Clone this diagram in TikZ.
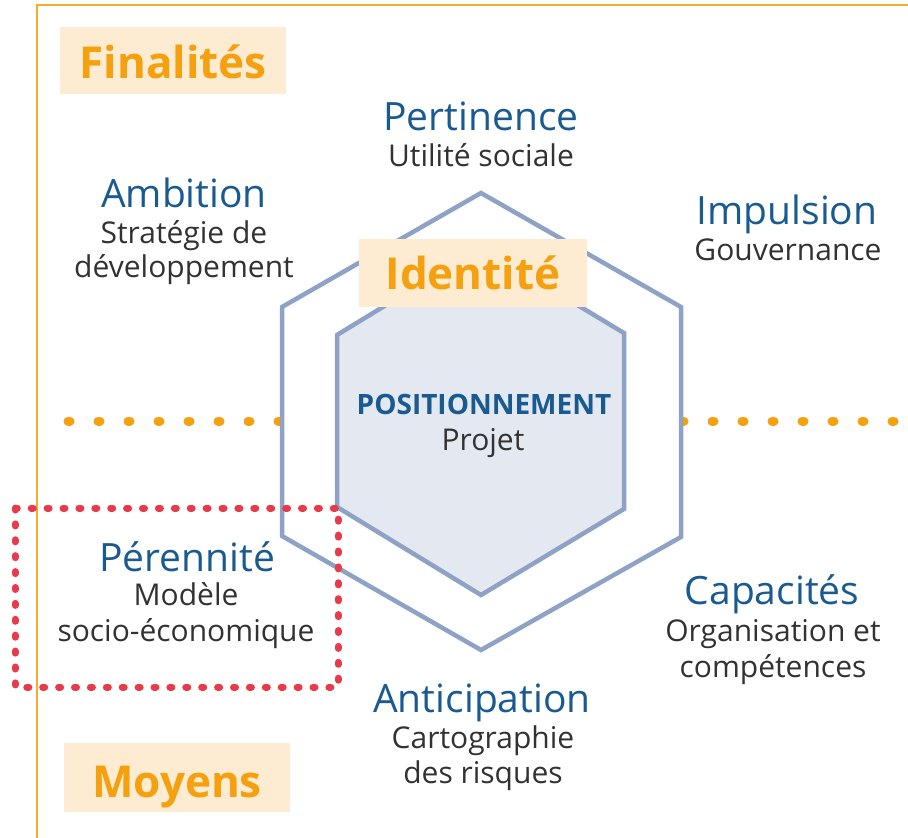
\documentclass[tikz,border=0pt]{standalone}
\usepackage{fontspec}
\setmainfont{Open Sans}
\definecolor{orangetxt}{RGB}{245,160,15}
\definecolor{boxfill}{RGB}{253,235,210}
\definecolor{frameorange}{RGB}{245,170,50}
\definecolor{titleblue}{RGB}{25,90,145}
\definecolor{subgray}{RGB}{50,50,50}
\definecolor{hexstroke}{RGB}{142,162,198}
\definecolor{hexfill}{RGB}{228,232,241}
\definecolor{dotred}{RGB}{232,58,75}
\begin{document}
\begin{tikzpicture}[x=1pt,y=-1pt,
  ttl/.style={anchor=base,inner sep=0pt,text=titleblue,font=\fontsize{39}{46}\selectfont},
  sub/.style={anchor=base,inner sep=0pt,text=subgray,font=\fontsize{30}{36}\selectfont},
  tagbox/.style={fill=boxfill,inner sep=0pt,text=orangetxt,font=\fontsize{44}{52}\selectfont\bfseries,text depth=0pt},
  hexline/.style={draw=hexstroke,line width=4.5pt,line join=miter},
  orangedots/.style={draw=orangetxt,line width=9pt,line cap=round,dash pattern=on 2pt off 28pt},
  reddots/.style={draw=dotred,line width=7pt,line cap=round,dash pattern=on 2pt off 13.9pt}
]
\useasboundingbox (0,0) rectangle (908,838);
% frame
\coordinate (fbl) at (37,838);
\coordinate (ftl) at (37,5);
\coordinate (ftr) at (908,5);
\draw[frameorange,line width=2pt] (fbl) -- (ftl) -- (ftr);
% dotted separator
\coordinate (dl1) at (68,421);
\coordinate (dl2) at (280,421);
\coordinate (dr1) at (682,421);
\coordinate (dr2) at (908,421);
\draw[orangedots] (dl1) -- (dl2);
\draw[orangedots] (dr1) -- (dr2);
% outer hexagon
\coordinate (o1) at (481,193);
\coordinate (o2) at (681,307);
\coordinate (o3) at (681,537);
\coordinate (o4) at (481,650);
\coordinate (o5) at (282,536);
\coordinate (o6) at (282,307);
\draw[hexline,fill=white] (o1) -- (o2) -- (o3) -- (o4) -- (o5) -- (o6) -- cycle;
% inner hexagon
\coordinate (i1) at (481,247);
\coordinate (i2) at (624,333);
\coordinate (i3) at (624,509);
\coordinate (i4) at (481,595);
\coordinate (i5) at (337,507);
\coordinate (i6) at (337,335);
\draw[hexline,fill=hexfill] (i1) -- (i2) -- (i3) -- (i4) -- (i5) -- (i6) -- cycle;
% tag boxes
\node[tagbox,minimum width=226pt,minimum height=67pt,text height=35pt] (fin) at (173,60.5) {Finalités};
\node[tagbox,minimum width=228pt,minimum height=68pt,text height=32pt] (ident) at (473,273) {Identité};
\node[tagbox,minimum width=226pt,minimum height=69pt,text height=39pt] (moy) at (177,777.5) {Moyens};
% labels
\node[ttl] (pert) at (481,130) {Pertinence};
\node[sub] (pertS) at (481,166) {Utilité sociale};
\node[ttl] (amb) at (184,207) {Ambition};
\node[sub] (ambS1) at (184,243) {Stratégie de};
\node[sub] (ambS2) at (184,277) {développement};
\node[ttl] (imp) at (787,224) {Impulsion};
\node[sub] (impS) at (788,260) {Gouvernance};
\node[anchor=base,inner sep=0pt,text=titleblue,font=\fontsize{28}{34}\selectfont\bfseries] (pos) at (484,414) {POSITIONNEMENT};
\node[sub] (posS) at (483,450) {Projet};
\node[ttl] (per) at (187,571) {Pérennité};
\node[sub] (perS1) at (186,605) {Modèle};
\node[sub] (perS2) at (186,641) {socio-économique};
\node[ttl] (cap) at (772,604) {Capacités};
\node[sub] (capS1) at (773,641) {Organisation et};
\node[sub] (capS2) at (773,677) {compétences};
\node[ttl] (anti) at (482,712) {Anticipation};
\node[sub] (antiS1) at (483,748) {Cartographie};
\node[sub] (antiS2) at (483,783) {des risques};
% red dotted box
\coordinate (r1) at (15,508);
\coordinate (r2) at (338,687);
\draw[reddots] (r1) rectangle (r2);
\end{tikzpicture}
\end{document}
